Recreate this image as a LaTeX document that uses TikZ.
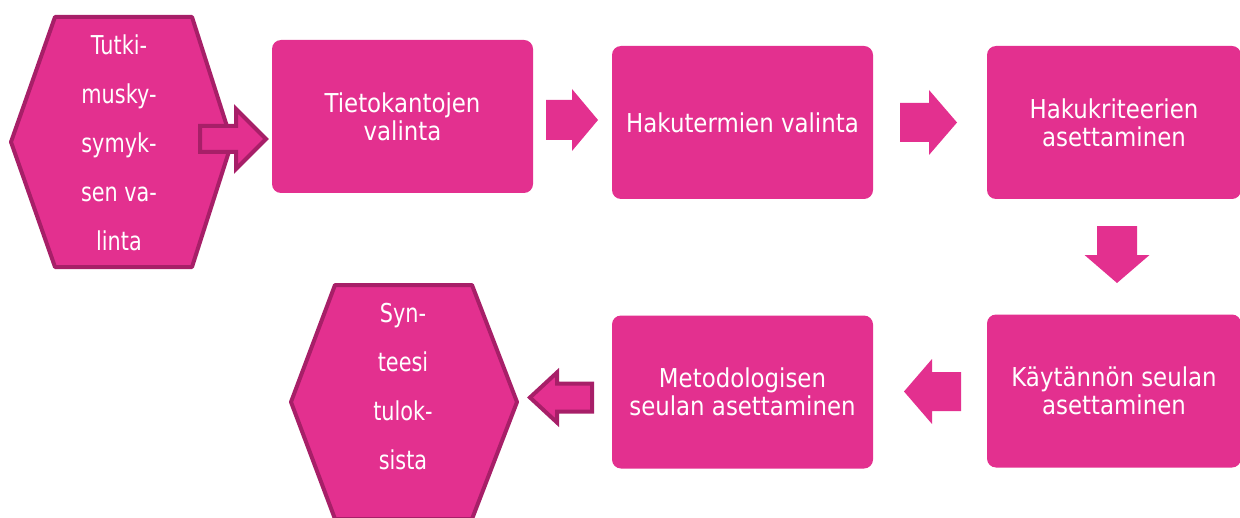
\documentclass[tikz,border=0pt]{standalone}
\usepackage{fontspec}
\setmainfont{DejaVu Sans}
\newfontfamily\boxfont[FakeStretch=0.88]{DejaVu Sans}
\newfontfamily\hexfont[FakeStretch=0.8]{DejaVu Sans}
\usepackage{tikz}
\usetikzlibrary{calc}

\definecolor{pinkfill}{HTML}{E3308F}
\definecolor{pinkline}{HTML}{A71F68}

\tikzset{
  stepbox/.style={rectangle, rounded corners=4.5pt, fill=pinkfill, text=white,
    align=center, inner sep=0pt, minimum height=76.5pt,
    font=\boxfont\fontsize{13}{14}\selectfont},
  hexline/.style={draw=pinkline, fill=pinkfill, line width=2pt, line join=round},
  hextext/.style={text=white, align=center, inner sep=0pt,
    font=\hexfont\fontsize{13}{24.5}\selectfont},
  solidarrow/.style={fill=pinkfill},
  linedarrow/.style={fill=pinkfill, draw=pinkline, line width=2pt},
  % length / head length / head half width / shaft half width
  pics/barrow/.style args={#1/#2/#3/#4}{code={
    \path[pic actions] (0,-#4) -- ({#1-#2},-#4) -- ({#1-#2},-#3) -- (#1,0)
      -- ({#1-#2},#3) -- ({#1-#2},#4) -- (0,#4) -- cycle;}}
}

\begin{document}
\begin{tikzpicture}[x=0.5pt,y=-0.5pt]
\useasboundingbox (0,0) rectangle (1240,518);

% hexagons
\coordinate (hexa) at (121.5,142);
\coordinate (hexb) at (404,402);
\draw[hexline, shift={(hexa)}] (-66.5,-125) -- (70.5,-125) -- (110.5,0) -- (70.5,125)
  -- (-66.5,125) -- (-110.5,0) -- cycle;
\draw[hexline, shift={(hexb)}] (-69,-117) -- (68,-117) -- (113,0) -- (68,117)
  -- (-69,117) -- (-113,0) -- cycle;
\node[hextext] (alku) at (119,143) {Tutki-\\musky-\\symyk-\\sen va-\\linta};
\node[hextext] (loppu) at (403,387) {Syn-\\teesi\\tulok-\\sista};

% steps
\node[stepbox, minimum width=130.5pt] (tietokannat) at (402.5,116.5) {Tietokantojen\\valinta};
\node[stepbox, minimum width=130.5pt] (hakutermit) at (742.5,122.5) {Hakutermien valinta};
\node[stepbox, minimum width=127pt] (kriteerit) at (1114,122.5) {Hakukriteerien\\asettaminen};
\node[stepbox, minimum width=127pt] (kaytanto) at (1114,391) {Käytännön seulan\\asettaminen};
\node[stepbox, minimum width=130.5pt] (metodi) at (742.5,392) {Metodologisen\\seulan asettaminen};

% arrows
\pic[linedarrow] at (200,139) {barrow={66/30/30/13}};
\pic[solidarrow] at (546,120) {barrow={52/26/31/20}};
\pic[solidarrow] at (900,122.5) {barrow={57/28/32.5/19.5}};
\pic[solidarrow, rotate=-90] at (1117,226) {barrow={57/28/32.5/20}};
\pic[solidarrow, rotate=180] at (961,391.5) {barrow={57/28/32.5/19.5}};
\pic[linedarrow, rotate=180] at (592,397.5) {barrow={62/27/25/14}};
\end{tikzpicture}
\end{document}
